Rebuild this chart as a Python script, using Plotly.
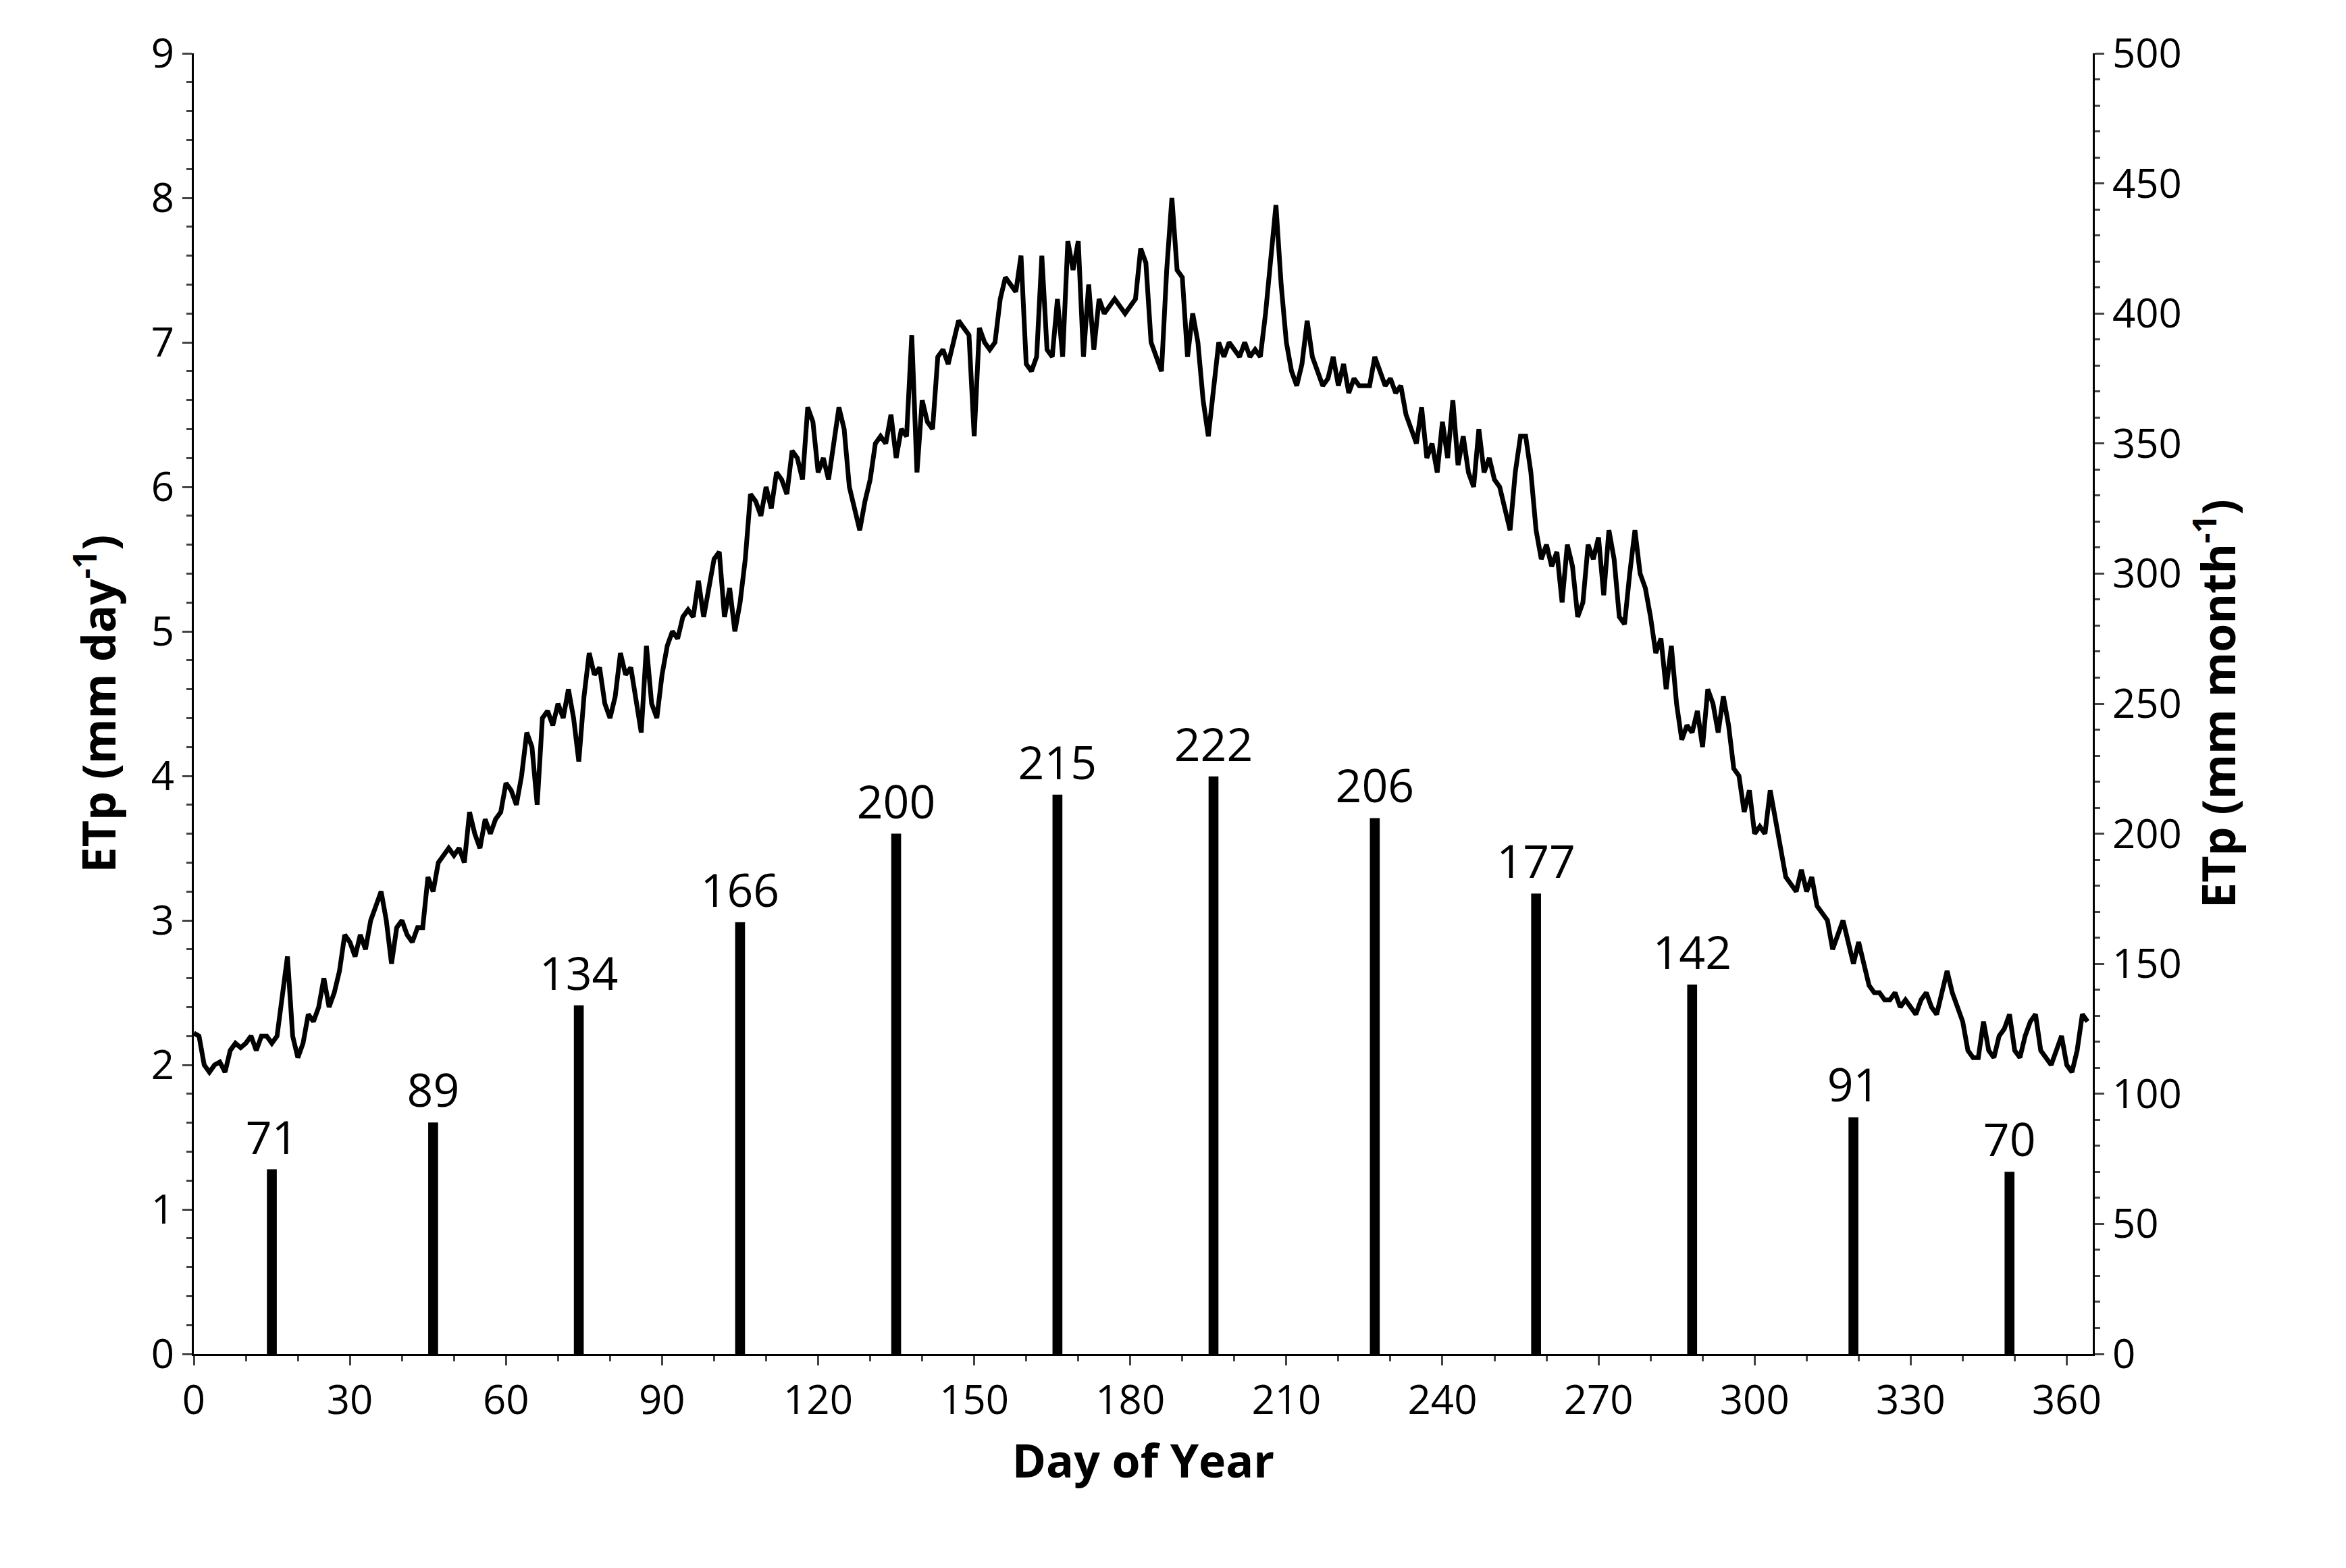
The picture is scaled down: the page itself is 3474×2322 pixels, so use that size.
import plotly.graph_objects as go

etp_daily = [
2.22,2.2,2.0,1.95,2.0,2.02,1.95,2.1,2.15,2.12,
2.15,2.2,2.1,2.2,2.2,2.15,2.2,2.5,2.75,2.2,
2.05,2.15,2.35,2.3,2.4,2.6,2.4,2.5,2.65,2.9,
2.85,2.75,2.9,2.8,3.0,3.1,3.2,3.0,2.7,2.95,
3.0,2.9,2.85,2.95,2.95,3.3,3.2,3.4,3.45,3.5,
3.45,3.5,3.4,3.75,3.6,3.5,3.7,3.6,3.7,3.75,
3.95,3.9,3.8,4.0,4.3,4.2,3.8,4.4,4.45,4.35,
4.5,4.4,4.6,4.4,4.1,4.55,4.85,4.7,4.75,4.5,
4.4,4.55,4.85,4.7,4.75,4.5,4.3,4.9,4.5,4.4,
4.7,4.9,5.0,4.95,5.1,5.15,5.1,5.35,5.1,5.3,
5.5,5.55,5.1,5.3,5.0,5.2,5.5,5.95,5.9,5.8,
6.0,5.85,6.1,6.05,5.95,6.25,6.2,6.05,6.55,6.45,
6.1,6.2,6.05,6.3,6.55,6.4,6.0,5.85,5.7,5.9,
6.05,6.3,6.35,6.3,6.5,6.2,6.4,6.35,7.05,6.1,
6.6,6.45,6.4,6.9,6.95,6.85,7.0,7.15,7.1,7.05,
6.35,7.1,7.0,6.95,7.0,7.3,7.45,7.4,7.35,7.6,
6.85,6.8,6.9,7.6,6.95,6.9,7.3,6.9,7.7,7.5,
7.7,6.9,7.4,6.95,7.3,7.2,7.25,7.3,7.25,7.2,
7.25,7.3,7.65,7.55,7.0,6.9,6.8,7.5,8.0,7.5,
7.45,6.9,7.2,7.0,6.6,6.35,6.7,7.0,6.9,7.0,
6.95,6.9,7.0,6.9,6.95,6.9,7.2,7.55,7.95,7.4,
7.0,6.8,6.7,6.85,7.15,6.9,6.8,6.7,6.75,6.9,
6.7,6.85,6.65,6.75,6.7,6.7,6.7,6.9,6.8,6.7,
6.75,6.65,6.7,6.5,6.4,6.3,6.55,6.2,6.3,6.1,
6.45,6.2,6.6,6.15,6.35,6.1,6.0,6.4,6.1,6.2,
6.05,6.0,5.85,5.7,6.1,6.35,6.35,6.1,5.7,5.5,
5.6,5.45,5.55,5.2,5.6,5.45,5.1,5.2,5.6,5.5,
5.65,5.25,5.7,5.5,5.1,5.05,5.4,5.7,5.4,5.3,
5.1,4.85,4.95,4.6,4.9,4.5,4.25,4.35,4.3,4.45,
4.2,4.6,4.5,4.3,4.55,4.35,4.05,4.0,3.75,3.9,
3.6,3.65,3.6,3.9,3.7,3.5,3.3,3.25,3.2,3.35,
3.2,3.3,3.1,3.05,3.0,2.8,2.9,3.0,2.85,2.7,
2.85,2.7,2.55,2.5,2.5,2.45,2.45,2.5,2.4,2.45,
2.4,2.35,2.45,2.5,2.4,2.35,2.5,2.65,2.5,2.4,
2.3,2.1,2.05,2.05,2.3,2.1,2.05,2.2,2.25,2.35,
2.1,2.05,2.2,2.3,2.35,2.1,2.05,2.0,2.1,2.2,
2.0,1.95,2.1,2.35,2.3]
days = list(range(len(etp_daily)))

month_days = [15, 46, 74, 105, 135, 166, 196, 227, 258, 288, 319, 349]
etp_monthly = [71, 89, 134, 166, 200, 215, 222, 206, 177, 142, 91, 70]

font = "Open Sans, Arial, sans-serif"
fig = go.Figure()
fig.add_trace(go.Bar(x=month_days, y=etp_monthly, yaxis="y2", width=1.9,
                     marker=dict(color="black", line=dict(width=0)),
                     text=[str(v) for v in etp_monthly], textposition="outside",
                     constraintext="none",
                     textfont=dict(size=68, color="black", family=font), cliponaxis=False))
fig.add_trace(go.Scatter(x=days, y=etp_daily, mode="lines",
                         line=dict(color="black", width=7)))

axis_common = dict(showgrid=False, zeroline=False, showline=True, linecolor="black",
                   linewidth=3, ticks="outside", ticklen=14, tickwidth=3,
                   tickfont=dict(size=60, color="black", family=font))
fig.update_layout(
    width=3474, height=2322, plot_bgcolor="white", paper_bgcolor="white",
    showlegend=False, margin=dict(l=279, r=383, t=71, b=325),
    font=dict(family=font, color="black"),
    xaxis=dict(range=[0, 365], tickvals=list(range(0, 361, 30)),
               minor=dict(dtick=10, ticks="outside", ticklen=8, tickwidth=3, tick0=0),
               title=dict(text="<b>Day of Year</b>", font=dict(size=68, family=font), standoff=30),
               **axis_common),
    yaxis=dict(range=[0, 9], dtick=1,
               minor=dict(dtick=0.2, ticks="outside", ticklen=8, tickwidth=3),
               title=dict(text="<b>ETp (mm day<sup>-1</sup>)</b>", font=dict(size=68, family=font), standoff=30),
               **axis_common),
    yaxis2=dict(range=[0, 500], dtick=50, overlaying="y", side="right",
                minor=dict(dtick=10, ticks="outside", ticklen=8, tickwidth=3),
                title=dict(text="<b>ETp (mm month<sup>-1</sup>)</b>", font=dict(size=68, family=font), standoff=30),
                **axis_common),
)
fig.write_html("out.html")
